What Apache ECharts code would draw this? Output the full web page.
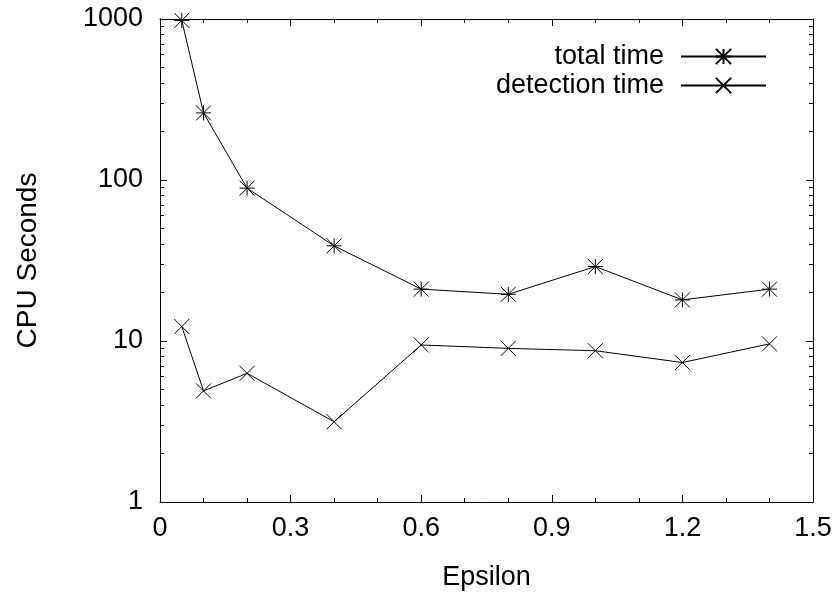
<!DOCTYPE html>
<html>
<head>
<meta charset="utf-8">
<script src="https://cdn.jsdelivr.net/npm/echarts@6/dist/echarts.min.js"></script>
<style>
html,body{margin:0;padding:0;background:#fff;}
#chart{width:839px;height:596px;}
</style>
</head>
<body>
<div id="chart"></div>
<script>
const epsilon = [0.05, 0.1, 0.2, 0.4, 0.6, 0.8, 1.0, 1.2, 1.4];
const totalTime = [980, 261, 89, 39, 21, 19.5, 29, 18, 21];
const detectionTime = [12.3, 4.9, 6.3, 3.15, 9.45, 9.0, 8.7, 7.35, 9.6];
const seriesNames = ['total time', 'detection time'];
const yMajorTicks = [1, 10, 100, 1000];
const yMinorTicks = [2,3,4,5,6,7,8,9,20,30,40,50,60,70,80,90,200,300,400,500,600,700,800,900];

const FONT = 'Liberation Sans';
const FS = 27;
const starPath = 'path://M0 0L10 10M10 0L0 10M5 0L5 10M0 5L10 5';
const crossPath = 'path://M0 0L10 10M10 0L0 10';

const axisLine = {show: true, lineStyle: {color: '#000', width: 1}};

function yAxisDef(pos, ticks, len, labels) {
  return {
    type: 'log', logBase: 10, min: 1, max: 1000, position: pos,
    axisLine: axisLine,
    splitLine: {show: false},
    axisTick: {show: true, inside: true, length: len, customValues: ticks, lineStyle: {color: '#000', width: 1}},
    axisLabel: labels ? {show: true, customValues: yMajorTicks, margin: 17, color: '#000', fontFamily: FONT, fontSize: FS, formatter: v => String(Math.round(v))} : {show: false},
    name: labels ? 'CPU Seconds' : '',
    nameLocation: 'middle', nameGap: 118,
    nameTextStyle: {color: '#000', fontFamily: FONT, fontSize: 28}
  };
}
function xAxisDef(pos, labels) {
  return {
    type: 'value', min: 0, max: 1.5, interval: 0.3, position: pos,
    axisLine: axisLine,
    splitLine: {show: false},
    axisTick: {show: true, inside: true, length: 7, lineStyle: {color: '#000'}},
    minorTick: {show: true, splitNumber: 3, length: 4, lineStyle: {color: '#000'}},
    minorSplitLine: {show: false},
    axisLabel: labels ? {show: true, margin: 13, color: '#000', fontFamily: FONT, fontSize: FS, formatter: v => String(Math.round(v * 10) / 10)} : {show: false},
    name: labels ? 'Epsilon' : '',
    nameLocation: 'middle', nameGap: 62,
    nameTextStyle: {color: '#000', fontFamily: FONT, fontSize: FS}
  };
}

const chart = echarts.init(document.getElementById('chart'), null, {renderer: 'canvas'});
chart.setOption({
  backgroundColor: '#fff',
  animation: false,
  grid: {left: 160, right: 26, top: 19, bottom: 93, containLabel: false},
  xAxis: [xAxisDef('bottom', true), xAxisDef('top', false)],
  yAxis: [
    yAxisDef('left', yMajorTicks, 7, true),
    yAxisDef('left', yMinorTicks, 4, false),
    yAxisDef('right', yMajorTicks, 7, false),
    yAxisDef('right', yMinorTicks, 4, false)
  ],
  legend: {
    orient: 'vertical', align: 'right', right: 67, top: 38,
    itemWidth: 85, itemHeight: 19, itemGap: 2,
    textStyle: {color: '#000', fontFamily: FONT, fontSize: FS, padding: [0, 12, 0, 0]},
    data: seriesNames
  },
  series: [
    {
      name: seriesNames[0], type: 'line', xAxisIndex: 0, yAxisIndex: 0,
      data: epsilon.map((x, i) => [x, totalTime[i]]),
      symbol: starPath, symbolSize: 15,
      lineStyle: {color: '#000', width: 1},
      itemStyle: {color: '#000', borderColor: '#000', borderWidth: 1},
      emphasis: {disabled: true}
    },
    {
      name: seriesNames[1], type: 'line', xAxisIndex: 0, yAxisIndex: 0,
      data: epsilon.map((x, i) => [x, detectionTime[i]]),
      symbol: crossPath, symbolSize: 15,
      lineStyle: {color: '#000', width: 1},
      itemStyle: {color: '#000', borderColor: '#000', borderWidth: 1},
      emphasis: {disabled: true}
    }
  ]
});
</script>
</body>
</html>
